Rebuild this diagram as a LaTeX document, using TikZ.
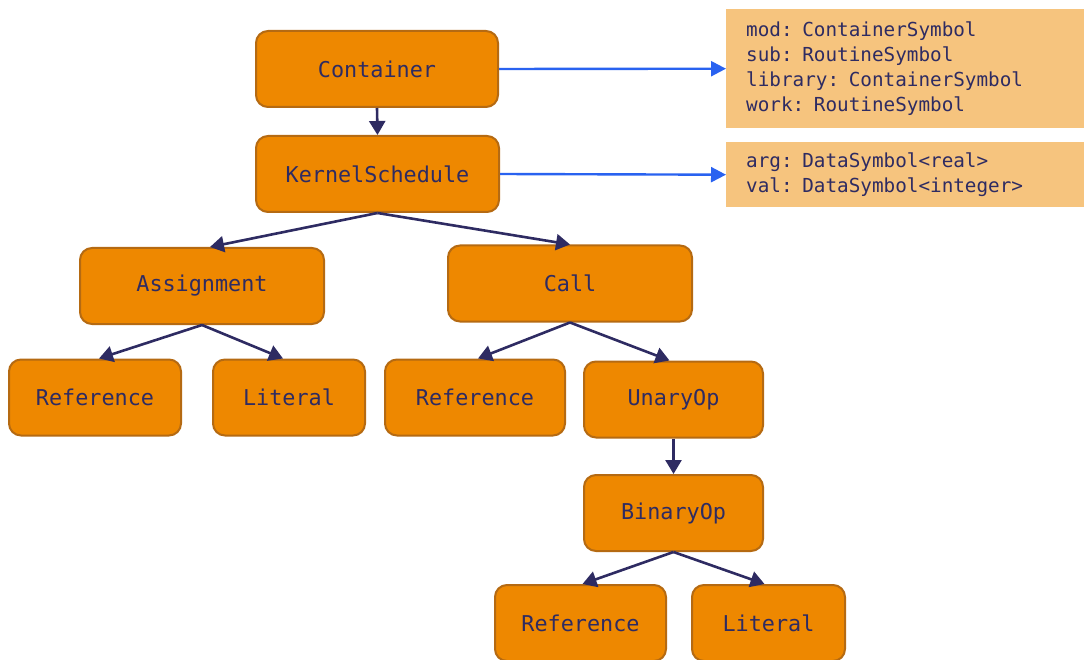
\documentclass[tikz,border=0pt]{standalone}
\usepackage{fontspec}
\setmonofont{DejaVu Sans Mono}
\usetikzlibrary{arrows.meta}
\definecolor{boxfill}{HTML}{EE8800}
\definecolor{boxline}{HTML}{B56A12}
\definecolor{ink}{HTML}{2E2B62}
\definecolor{linkblue}{HTML}{2962F0}
\definecolor{tablefill}{HTML}{F6C47E}
\tikzset{
  astnode/.style={draw=boxline, line width=2pt, fill=boxfill, rounded corners=12pt,
    minimum height=76pt, text=ink, font=\ttfamily\fontsize{21.8}{26}\selectfont, inner sep=0pt},
  edge/.style={draw=ink, line width=2.6pt, -{Triangle[length=14pt,width=16pt]}},
  link/.style={draw=linkblue, line width=2.4pt, -{Triangle[length=15pt,width=15pt]}},
  symtab/.style={fill=tablefill, anchor=north west, text=ink, align=left,
    font=\ttfamily\fontsize{19.3}{25}\selectfont, inner sep=0pt,
    text width=318pt, inner xsep=20pt}
}
\begin{document}
\begin{tikzpicture}[x=1pt,y=-1pt]
\useasboundingbox (0,0) rectangle (1084,660);
% tree nodes
\node[astnode, minimum width=242pt] (container) at (377,69) {Container};
\node[astnode, minimum width=243pt] (kernel) at (377.5,174) {KernelSchedule};
\node[astnode, minimum width=244pt] (assign) at (202,286) {Assignment};
\node[astnode, minimum width=244pt] (call) at (570,283.5) {Call};
\node[astnode, minimum width=172pt] (refA) at (95,397.5) {Reference};
\node[astnode, minimum width=152pt] (litA) at (289,397.5) {Literal};
\node[astnode, minimum width=180pt] (refB) at (475,397.5) {Reference};
\node[astnode, minimum width=179pt] (unary) at (673.5,399.5) {UnaryOp};
\node[astnode, minimum width=179pt] (binary) at (673.5,513) {BinaryOp};
\node[astnode, minimum width=171pt] (refC) at (580.5,623) {Reference};
\node[astnode, minimum width=153pt] (litC) at (768.5,623) {Literal};
% symbol tables
\node[symtab, minimum height=119pt] (tabA) at (726,9)
  {mod: ContainerSymbol\\sub: RoutineSymbol\\library: ContainerSymbol\\work: RoutineSymbol};
\node[symtab, minimum height=65pt] (tabB) at (726,142)
  {arg: DataSymbol<real>\\val: DataSymbol<integer>};
% tree edges
\draw[edge] (container.south) -- (kernel.north);
\draw[edge] (kernel.south) -- ([xshift=8pt]assign.north);
\draw[edge] (kernel.south) -- (call.north);
\draw[edge] (assign.south) -- ([xshift=4pt]refA.north);
\draw[edge] (assign.south) -- ([xshift=-6pt]litA.north);
\draw[edge] (call.south) -- ([xshift=3pt]refB.north);
\draw[edge] (call.south) -- ([xshift=-4pt]unary.north);
\draw[edge] (unary.south) -- (binary.north);
\draw[edge] (binary.south) -- ([xshift=2pt]refC.north);
\draw[edge] (binary.south) -- ([xshift=-4pt]litC.north);
% links to symbol tables
\draw[link] (container.east) -- (tabA.west);
\draw[link] (kernel.east) -- (tabB.west);
\end{tikzpicture}
\end{document}
